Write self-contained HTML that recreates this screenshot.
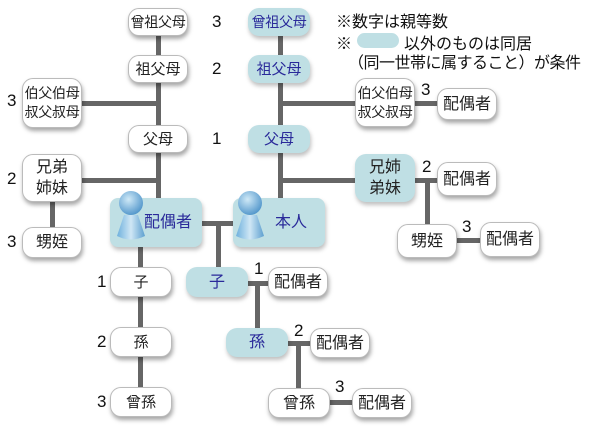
<!DOCTYPE html>
<html><head><meta charset="utf-8"><style>
body{margin:0;width:600px;height:430px;background:#fff;position:relative;overflow:hidden;font-family:"Liberation Sans","Noto Sans CJK JP",sans-serif;}
.n{position:absolute;box-sizing:border-box;border-radius:11px;background:#fff;border:1px solid #bbb;box-shadow:1px 3px 4px rgba(0,0,0,0.35);display:flex;align-items:center;justify-content:center;text-align:center;font-size:15px;line-height:17px;color:#222;white-space:nowrap;padding:0;}
.s{font-size:14px;letter-spacing:-0.3px;}
.b{background:#bfdfe4;border:none;color:#2a2a9a;box-shadow:1px 3px 4px rgba(0,0,0,0.25);}
.l{position:absolute;background:#666;}
.t{position:absolute;font-size:17px;color:#111;white-space:nowrap;}
.big{border-radius:8px;font-size:16px;justify-content:flex-end;padding-right:10px;}
</style></head><body>
<div class="l" style="left:156px;top:36px;width:5px;height:162px"></div>
<div class="l" style="left:278px;top:36px;width:5px;height:162px"></div>
<div class="l" style="left:82px;top:101px;width:76px;height:5px"></div>
<div class="l" style="left:82px;top:178px;width:76px;height:5px"></div>
<div class="l" style="left:50px;top:202px;width:5px;height:26px"></div>
<div class="l" style="left:280px;top:101px;width:76px;height:5px"></div>
<div class="l" style="left:280px;top:178px;width:76px;height:5px"></div>
<div class="l" style="left:415px;top:178px;width:22px;height:5px"></div>
<div class="l" style="left:425px;top:178px;width:5px;height:48px"></div>
<div class="l" style="left:415px;top:101px;width:22px;height:5px"></div>
<div class="l" style="left:457px;top:238px;width:24px;height:5px"></div>
<div class="l" style="left:202px;top:221px;width:31px;height:5px"></div>
<div class="l" style="left:216px;top:221px;width:5px;height:48px"></div>
<div class="l" style="left:138px;top:246px;width:5px;height:142px"></div>
<div class="l" style="left:248px;top:281px;width:20px;height:5px"></div>
<div class="l" style="left:255px;top:281px;width:5px;height:48px"></div>
<div class="l" style="left:288px;top:341px;width:22px;height:5px"></div>
<div class="l" style="left:296px;top:341px;width:5px;height:48px"></div>
<div class="l" style="left:330px;top:400px;width:22px;height:5px"></div>
<div class="n s" style="left:128px;top:8px;width:60px;height:28px">曾祖父母</div>
<div class="n" style="left:128px;top:55px;width:60px;height:28px">祖父母</div>
<div class="n s" style="left:22px;top:78px;width:60px;height:50px;line-height:19px">伯父伯母<br>叔父叔母</div>
<div class="n" style="left:128px;top:125px;width:60px;height:28px">父母</div>
<div class="n" style="left:22px;top:154px;width:60px;height:48px;font-size:16px;line-height:21px">兄弟<br>姉妹</div>
<div class="n" style="left:22px;top:227px;width:60px;height:31px;font-size:16px">甥姪</div>
<div class="n b big" style="left:110px;top:198px;width:92px;height:49px">配偶者</div>
<div class="n b big" style="left:233px;top:198px;width:92px;height:49px;padding-right:18px">本人</div>
<div class="n" style="left:110px;top:267px;width:62px;height:30px">子</div>
<div class="n" style="left:110px;top:327px;width:62px;height:30px">孫</div>
<div class="n" style="left:110px;top:387px;width:62px;height:30px">曾孫</div>
<div class="n b s" style="left:248px;top:8px;width:62px;height:28px">曾祖父母</div>
<div class="n b" style="left:248px;top:55px;width:62px;height:28px">祖父母</div>
<div class="n b" style="left:248px;top:125px;width:62px;height:28px">父母</div>
<div class="n s" style="left:355px;top:78px;width:60px;height:49px;line-height:19px">伯父伯母<br>叔父叔母</div>
<div class="n" style="left:437px;top:88px;width:60px;height:32px;font-size:16px">配偶者</div>
<div class="n b" style="left:355px;top:154px;width:60px;height:48px;font-size:16px;line-height:21px;color:#222">兄姉<br>弟妹</div>
<div class="n" style="left:437px;top:162px;width:60px;height:34px;font-size:16px">配偶者</div>
<div class="n" style="left:397px;top:224px;width:60px;height:34px;font-size:16px">甥姪</div>
<div class="n" style="left:480px;top:222px;width:60px;height:35px;font-size:16px">配偶者</div>
<div class="n b" style="left:186px;top:267px;width:62px;height:30px;font-size:16px">子</div>
<div class="n" style="left:268px;top:267px;width:60px;height:30px;font-size:16px">配偶者</div>
<div class="n b" style="left:226px;top:328px;width:62px;height:29px;font-size:16px">孫</div>
<div class="n" style="left:310px;top:328px;width:60px;height:30px;font-size:16px">配偶者</div>
<div class="n" style="left:268px;top:388px;width:62px;height:30px;font-size:16px">曾孫</div>
<div class="n" style="left:352px;top:388px;width:60px;height:30px;font-size:16px">配偶者</div>
<svg style="position:absolute;left:0;top:0" width="600" height="430">
<defs><radialGradient id="g" cx="0.4" cy="0.35" r="0.7"><stop offset="0" stop-color="#cfe9f7"/><stop offset="1" stop-color="#4d93c9"/></radialGradient>
<linearGradient id="h" x1="0" x2="1"><stop offset="0" stop-color="#6fb0dd"/><stop offset="0.5" stop-color="#cfe7f5"/><stop offset="1" stop-color="#5d9fcf"/></linearGradient></defs>
<g><path d="M124 215 L138 215 L145 236 Q131 243 117 236 Z" fill="url(#h)"/><circle cx="131" cy="203" r="12" fill="url(#g)"/></g>
<g><path d="M243 215 L257 215 L264 236 Q250 243 236 236 Z" fill="url(#h)"/><circle cx="250" cy="203" r="12" fill="url(#g)"/></g>
</svg>
<div class="t" style="left:212px;top:12px">3</div>
<div class="t" style="left:212px;top:59px">2</div>
<div class="t" style="left:212px;top:129px">1</div>
<div class="t" style="left:7px;top:91px">3</div>
<div class="t" style="left:7px;top:169px">2</div>
<div class="t" style="left:7px;top:232px">3</div>
<div class="t" style="left:421px;top:80px">3</div>
<div class="t" style="left:422px;top:157px">2</div>
<div class="t" style="left:462px;top:217px">3</div>
<div class="t" style="left:254px;top:259px">1</div>
<div class="t" style="left:294px;top:321px">2</div>
<div class="t" style="left:335px;top:377px">3</div>
<div class="t" style="left:97px;top:272px">1</div>
<div class="t" style="left:97px;top:332px">2</div>
<div class="t" style="left:97px;top:392px">3</div>
<div class="t" style="left:336px;top:8px;font-size:16px">※数字は親等数</div>
<div class="t" style="left:336px;top:30px;font-size:16px">※</div>
<div style="position:absolute;left:357px;top:33px;width:42px;height:15px;border-radius:8px;background:#bfdfe4"></div>
<div class="t" style="left:404px;top:30px;font-size:16px">以外のものは同居</div>
<div class="t" style="left:348px;top:49px;font-size:16px;letter-spacing:-0.5px">（同一世帯に属すること）が条件</div>
</body></html>
